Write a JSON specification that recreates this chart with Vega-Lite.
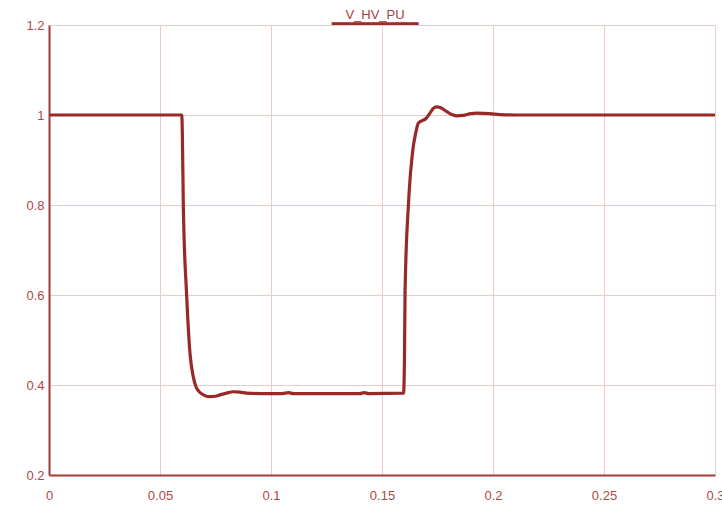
{
  "$schema": "https://vega.github.io/schema/vega-lite/v6.json",
  "autosize": "none",
  "width": 666,
  "height": 450,
  "padding": {"left": 49, "top": 25, "right": 7, "bottom": 32},
  "background": "white",
  "title": {
    "text": "V_HV_PU",
    "subtitle": "━━━━━━━━━",
    "font": "Liberation Sans",
    "fontSize": 13,
    "fontWeight": "normal",
    "color": "#a8403f",
    "subtitleFont": "DejaVu Sans",
    "subtitleFontSize": 16,
    "subtitleColor": "#9b2a2a",
    "subtitlePadding": -6,
    "anchor": "middle",
    "dx": -7,
    "offset": -13
  },
  "data": {
    "values": [
      {"t": 0, "v": 1.0},
      {"t": 0.0598, "v": 1.0},
      {"t": 0.0601, "v": 0.95},
      {"t": 0.0605, "v": 0.8},
      {"t": 0.062, "v": 0.6},
      {"t": 0.0635, "v": 0.471},
      {"t": 0.065, "v": 0.418},
      {"t": 0.0663, "v": 0.395},
      {"t": 0.0673, "v": 0.387},
      {"t": 0.07, "v": 0.377},
      {"t": 0.0725, "v": 0.374},
      {"t": 0.075, "v": 0.375},
      {"t": 0.077, "v": 0.378},
      {"t": 0.08, "v": 0.382},
      {"t": 0.083, "v": 0.385},
      {"t": 0.086, "v": 0.384},
      {"t": 0.089, "v": 0.382},
      {"t": 0.095, "v": 0.381},
      {"t": 0.105, "v": 0.381},
      {"t": 0.108, "v": 0.383},
      {"t": 0.110, "v": 0.381},
      {"t": 0.14, "v": 0.381},
      {"t": 0.142, "v": 0.383},
      {"t": 0.144, "v": 0.381},
      {"t": 0.1597, "v": 0.382},
      {"t": 0.1601, "v": 0.45},
      {"t": 0.1604, "v": 0.611},
      {"t": 0.1619, "v": 0.8},
      {"t": 0.1626, "v": 0.856},
      {"t": 0.1634, "v": 0.9},
      {"t": 0.1641, "v": 0.93},
      {"t": 0.1652, "v": 0.96},
      {"t": 0.1664, "v": 0.982},
      {"t": 0.17, "v": 0.993},
      {"t": 0.1716, "v": 1.004},
      {"t": 0.173, "v": 1.014},
      {"t": 0.1746, "v": 1.018},
      {"t": 0.1765, "v": 1.016},
      {"t": 0.1784, "v": 1.01},
      {"t": 0.181, "v": 1.002},
      {"t": 0.1835, "v": 0.998},
      {"t": 0.1866, "v": 0.999},
      {"t": 0.19, "v": 1.003},
      {"t": 0.1927, "v": 1.004},
      {"t": 0.1986, "v": 1.003},
      {"t": 0.203, "v": 1.001},
      {"t": 0.21, "v": 1.0},
      {"t": 0.3, "v": 1.0}
    ]
  },
  "mark": {"type": "line", "color": "#992828", "strokeWidth": 3.2, "interpolate": "monotone", "clip": true},
  "encoding": {
    "x": {
      "field": "t", "type": "quantitative",
      "scale": {"domain": [0, 0.3], "nice": false, "zero": false},
      "axis": {"title": null, "values": [0, 0.05, 0.1, 0.15, 0.2, 0.25, 0.3], "format": "~g", "tickSize": 0, "labelPadding": 14}
    },
    "y": {
      "field": "v", "type": "quantitative",
      "scale": {"domain": [0.2, 1.2], "nice": false, "zero": false},
      "axis": {"title": null, "values": [0.2, 0.4, 0.6, 0.8, 1, 1.2], "format": "~g", "tickSize": 0, "labelPadding": 5}
    }
  },
  "config": {
    "view": {"stroke": null},
    "axis": {
      "domainColor": "#a33a3a",
      "domainWidth": 2,
      "gridColor": "#ebcaca",
      "gridOpacity": 1,
      "gridWidth": 1,
      "labelColor": "#b04848",
      "labelFont": "Liberation Sans",
      "labelFontSize": 13,
      "labelOverlap": false,
      "labelFlush": false,
      "labelBound": false
    }
  }
}
